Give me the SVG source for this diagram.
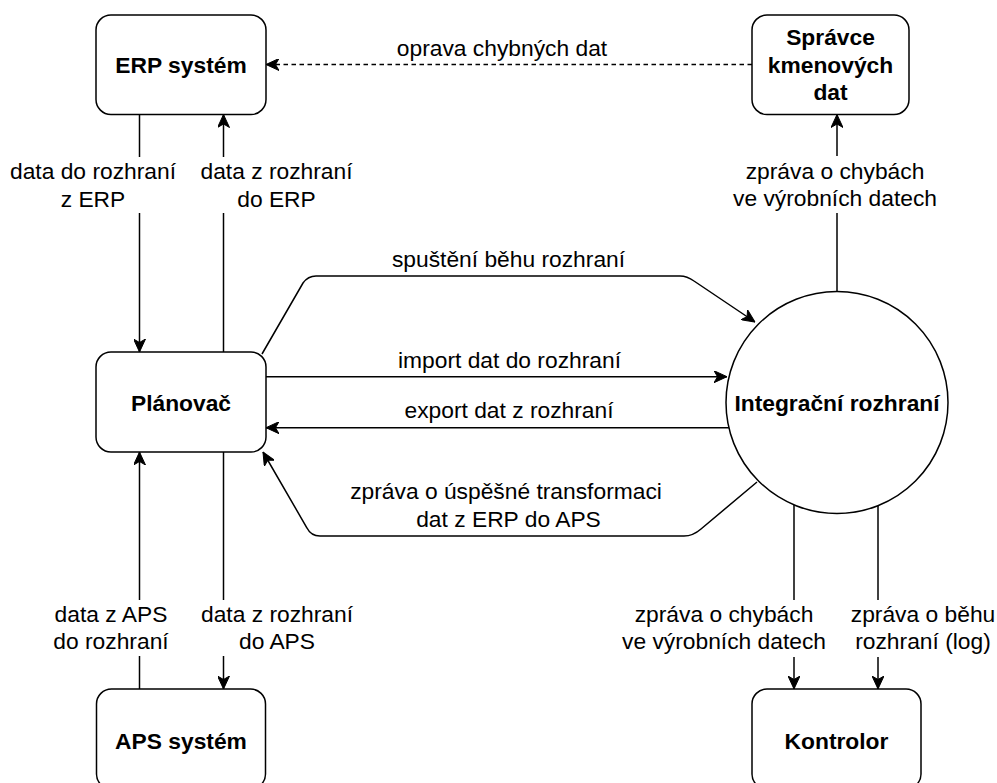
<svg xmlns="http://www.w3.org/2000/svg" width="997" height="783" viewBox="0 0 997 783">
  <style>
    .box { fill: #ffffff; stroke: #000000; stroke-width: 1.5; }
    .title { font-family: "Liberation Sans", Arial, Helvetica, sans-serif; font-size: 22.8px; font-weight: bold; fill: #000000; text-anchor: middle; }
    .lbl { font-family: "Liberation Sans", Arial, Helvetica, sans-serif; font-size: 22.8px; fill: #000000; text-anchor: middle; }
    .edge { fill: none; stroke: #000000; stroke-width: 1.5; }
    .dash { stroke-dasharray: 4.5 3.5; }
    .bg { fill: #ffffff; stroke: none; }
  </style>
  <defs>
    <marker id="arrow" markerUnits="userSpaceOnUse" viewBox="0 0 13 12" markerWidth="13" markerHeight="12" refX="13" refY="6" orient="auto">
      <path d="M0,0 L13,6 L0,12 L3.5,6 Z" fill="#000000" stroke="#000000" stroke-width="1" stroke-linejoin="miter"/>
    </marker>
  </defs>

  <rect width="997" height="783" fill="#ffffff"/>

  <!-- connectors -->
  <g id="connectors">
    <!-- ERP <-> Planovac -->
    <line class="edge" x1="139.5" y1="114.5" x2="139.5" y2="352" marker-end="url(#arrow)"/>
    <line class="edge" x1="223.5" y1="352" x2="223.5" y2="114.5" marker-end="url(#arrow)"/>
    <!-- APS <-> Planovac -->
    <line class="edge" x1="139.5" y1="689" x2="139.5" y2="452" marker-end="url(#arrow)"/>
    <line class="edge" x1="223.5" y1="452" x2="223.5" y2="689" marker-end="url(#arrow)"/>
    <!-- Spravce -> ERP (dashed) -->
    <line class="edge dash" x1="752" y1="64.5" x2="266" y2="64.5" marker-end="url(#arrow)"/>
    <!-- Integracni rozhrani -> Spravce -->
    <line class="edge" x1="837" y1="291.5" x2="837" y2="114.5" marker-end="url(#arrow)"/>
    <!-- Planovac -> Integracni rozhrani (spusteni) -->
    <path class="edge" d="M262,354 L303,283 Q308,276 316,276 L680,276 Q687,276 694,281 L755,322" marker-end="url(#arrow)"/>
    <!-- import / export -->
    <line class="edge" x1="266" y1="376.7" x2="727" y2="376.7" marker-end="url(#arrow)"/>
    <line class="edge" x1="729" y1="427.7" x2="266" y2="427.7" marker-end="url(#arrow)"/>
    <!-- success message back to Planovac -->
    <path class="edge" d="M757,482 L701,529 Q693,536 684,536 L320,536 Q311,536 307,528 L263,452" marker-end="url(#arrow)"/>
    <!-- Integracni rozhrani -> Kontrolor -->
    <line class="edge" x1="794" y1="505" x2="794" y2="689" marker-end="url(#arrow)"/>
    <line class="edge" x1="878" y1="505.5" x2="878" y2="689" marker-end="url(#arrow)"/>

    <!-- edge labels -->
    <rect class="bg" x="8" y="157" width="170" height="56"/>
    <text class="lbl" x="93" y="179.3">data do rozhraní</text>
    <text class="lbl" x="93" y="206.7">z ERP</text>

    <rect class="bg" x="198" y="157" width="158" height="56"/>
    <text class="lbl" x="276.5" y="179.3">data z rozhraní</text>
    <text class="lbl" x="276.5" y="206.7">do ERP</text>

    <rect class="bg" x="730" y="156" width="210" height="57"/>
    <text class="lbl" x="835" y="178.5">zpráva o chybách</text>
    <text class="lbl" x="835" y="206">ve výrobních datech</text>

    <text class="lbl" x="502" y="56">oprava chybných dat</text>
    <text class="lbl" x="508.5" y="267">spuštění běhu rozhraní</text>
    <text class="lbl" x="509.5" y="368">import dat do rozhraní</text>
    <text class="lbl" x="509" y="418">export dat z rozhraní</text>
    <text class="lbl" x="506" y="499">zpráva o úspěšné transformaci</text>
    <text class="lbl" x="508.5" y="527">dat z ERP do APS</text>

    <rect class="bg" x="48" y="600" width="127" height="56"/>
    <text class="lbl" x="111" y="622">data z APS</text>
    <text class="lbl" x="111" y="649">do rozhraní</text>

    <rect class="bg" x="197" y="600" width="160" height="56"/>
    <text class="lbl" x="277" y="622">data z rozhraní</text>
    <text class="lbl" x="277" y="649">do APS</text>

    <rect class="bg" x="619" y="600" width="211" height="57"/>
    <text class="lbl" x="724" y="622">zpráva o chybách</text>
    <text class="lbl" x="724" y="649">ve výrobních datech</text>

    <rect class="bg" x="852" y="600" width="145" height="57"/>
    <text class="lbl" x="923" y="622">zpráva o běhu</text>
    <text class="lbl" x="923" y="649">rozhraní (log)</text>
  </g>

  <!-- nodes -->
  <g id="erp">
    <rect class="box" x="96" y="15" width="170" height="99.5" rx="15" ry="15"/>
    <text class="title" x="181" y="73">ERP systém</text>
  </g>
  <g id="spravce">
    <rect class="box" x="752" y="15" width="157" height="99.5" rx="15" ry="15"/>
    <text class="title" x="830.5" y="45">Správce</text>
    <text class="title" x="830.5" y="72.5">kmenových</text>
    <text class="title" x="830.5" y="100">dat</text>
  </g>
  <g id="planovac">
    <rect class="box" x="96" y="352" width="170" height="100" rx="15" ry="15"/>
    <text class="title" x="181" y="410.5">Plánovač</text>
  </g>
  <g id="integracni-rozhrani">
    <circle class="box" cx="837" cy="402.5" r="111"/>
    <text class="title" x="837" y="410.5">Integrační rozhraní</text>
  </g>
  <g id="aps">
    <rect class="box" x="96.5" y="689" width="169" height="100" rx="15" ry="15"/>
    <text class="title" x="181" y="748.5">APS systém</text>
  </g>
  <g id="kontrolor">
    <rect class="box" x="752" y="689" width="169" height="100" rx="15" ry="15"/>
    <text class="title" x="836.5" y="748.5">Kontrolor</text>
  </g>
</svg>
